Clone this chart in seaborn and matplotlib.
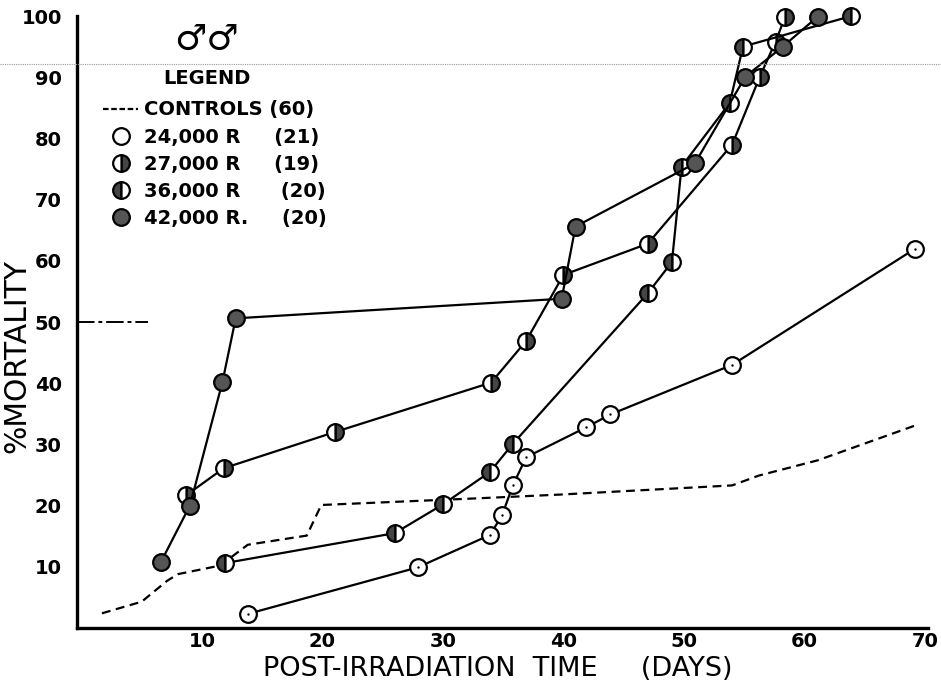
import matplotlib.pyplot as plt
import seaborn as sns
from matplotlib.lines import Line2D

sns.set_style('white')
plt.rcParams['font.family'] = ['DejaVu Sans']
plt.rcParams['text.color'] = 'black'
plt.rcParams['axes.labelcolor'] = 'black'
plt.rcParams['xtick.color'] = 'black'
plt.rcParams['ytick.color'] = 'black'

# Data (days after irradiation, % mortality)
ctrl_day = [1.7, 5.0, 7.1, 8.0, 11.5, 13.8, 18.7, 19.9, 33.0, 39.7, 54.0, 56.2, 61.1, 69.2]
ctrl_pct = [2.4, 4.3, 7.7, 8.8, 10.2, 13.6, 15.1, 20.1, 21.2, 21.8, 23.3, 24.9, 27.4, 33.1]

r24_day = [13.8, 27.9, 33.9, 34.9, 35.8, 36.9, 41.9, 43.9, 54.0, 69.2]
r24_pct = [2.3, 9.9, 15.2, 18.4, 23.3, 27.9, 32.8, 34.9, 43.0, 62.0]

r27_day = [8.7, 11.8, 21.0, 34.0, 36.9, 40.0, 47.0, 54.0, 56.3, 57.6, 58.4]
r27_pct = [21.7, 26.1, 32.0, 40.1, 46.9, 57.7, 62.8, 79.0, 90.1, 95.8, 99.9]

r36_day = [11.9, 26.0, 30.0, 33.9, 35.8, 47.0, 49.0, 49.8, 53.8, 54.9, 63.9]
r36_pct = [10.6, 15.5, 20.2, 25.5, 30.1, 54.7, 59.8, 75.4, 85.8, 95.0, 100.0]

r42_day = [6.6, 9.0, 11.7, 12.8, 39.85, 41.0, 50.9, 55.1, 58.2, 61.1]
r42_pct = [10.8, 20.0, 40.2, 50.6, 53.8, 65.6, 75.9, 90.1, 95.0, 99.9]

legend_labels = ['CONTROLS (60)', '24,000 R     (21)', '27,000 R     (19)',
                 '36,000 R      (20)', '42,000 R.     (20)']
x_ticks = [10, 20, 30, 40, 50, 60, 70]
y_ticks = [10, 20, 30, 40, 50, 60, 70, 80, 90, 100]
half_mark = 50      # short LD50 reference dash at the left
half_mark_end = 5.5

dark = '#454545'
ms = 12

fig = plt.figure(figsize=(9.41, 6.86), dpi=100)
ax = fig.add_axes([77 / 941, 58 / 686, 851 / 941, 612 / 686])

# controls
sns.lineplot(x=ctrl_day, y=ctrl_pct, ax=ax, color='black', linewidth=1.6,
             linestyle=(0, (4, 2.5)), estimator=None, sort=False, zorder=2)

common = dict(ax=ax, color='black', linewidth=1.6, marker='o', markersize=ms,
              markeredgecolor='black', markeredgewidth=1.6,
              estimator=None, sort=False, clip_on=False, zorder=3)

sns.lineplot(x=r24_day, y=r24_pct, markerfacecolor='white', **common)
sns.scatterplot(x=r24_day, y=r24_pct, ax=ax, s=3, color='black',
                linewidth=0, zorder=4)
sns.lineplot(x=r27_day, y=r27_pct, fillstyle='right', markerfacecolor=dark,
             markerfacecoloralt='white', **common)
sns.lineplot(x=r36_day, y=r36_pct, fillstyle='left', markerfacecolor=dark,
             markerfacecoloralt='white', **common)
sns.lineplot(x=r42_day, y=r42_pct, markerfacecolor='#555555', **common)

ax.hlines(half_mark, -0.37, half_mark_end, color='black', linewidth=1.4,
          linestyles=(0, (9, 2, 2, 2)))

ax.set_xlim(-0.37, 70.25)
ax.set_ylim(0, 100)
ax.set_xticks(x_ticks)
ax.set_yticks(y_ticks)
for lab in ax.get_xticklabels() + ax.get_yticklabels():
    lab.set_fontweight('bold')
    lab.set_fontsize(14)
ax.tick_params(axis='x', direction='in', length=7, width=1.6, pad=3)
ax.tick_params(axis='y', direction='in', length=7, width=1.6, pad=11)
sns.despine(ax=ax)
for side in ['left', 'bottom']:
    ax.spines[side].set_linewidth(2.4)
    ax.spines[side].set_color('black')

ax.set_xlabel('POST-IRRADIATION  TIME     (DAYS)', fontsize=19.5)
ax.xaxis.set_label_coords(0.494, -0.046)
ax.set_ylabel('%MORTALITY', fontsize=21.5)
ax.yaxis.set_label_coords(-0.054, 0.445)

# legend
handles = [
    Line2D([], [], color='black', linewidth=1.6, linestyle=(0, (2.5, 1.2))),
    Line2D([], [], color='black', linestyle='none', marker='o', markersize=ms,
           markerfacecolor='white', markeredgewidth=1.6),
    Line2D([], [], color='black', linestyle='none', marker='o', markersize=ms,
           fillstyle='right', markerfacecolor=dark, markerfacecoloralt='white',
           markeredgewidth=1.6),
    Line2D([], [], color='black', linestyle='none', marker='o', markersize=ms,
           fillstyle='left', markerfacecolor=dark, markerfacecoloralt='white',
           markeredgewidth=1.6),
    Line2D([], [], color='black', linestyle='none', marker='o', markersize=ms,
           markerfacecolor='#555555', markeredgewidth=1.6),
]
leg = ax.legend(handles, legend_labels, title='LEGEND', frameon=False,
                loc='upper left', bbox_to_anchor=(103 / 941, 1 - 69 / 686),
                bbox_transform=fig.transFigure, prop={'weight': 'bold', 'size': 14},
                title_fontproperties={'weight': 'bold', 'size': 14},
                handlelength=1.8, handletextpad=0.3, labelspacing=0.42,
                borderpad=0, borderaxespad=0)
leg._legend_box.align = 'left'
leg._legend_box.sep = 9
leg.get_title().set_position((60, 0))

fig.text(207 / 941, 1 - 40 / 686, '\u2642\u2642', ha='center', va='center',
         fontsize=26)

# faint fold line from the scan
fig.add_artist(Line2D([0, 1], [1 - 64 / 686] * 2, transform=fig.transFigure,
                      color='#999999', linewidth=0.8, linestyle=(0, (1, 1))))

fig.savefig('out.png', dpi=100)
